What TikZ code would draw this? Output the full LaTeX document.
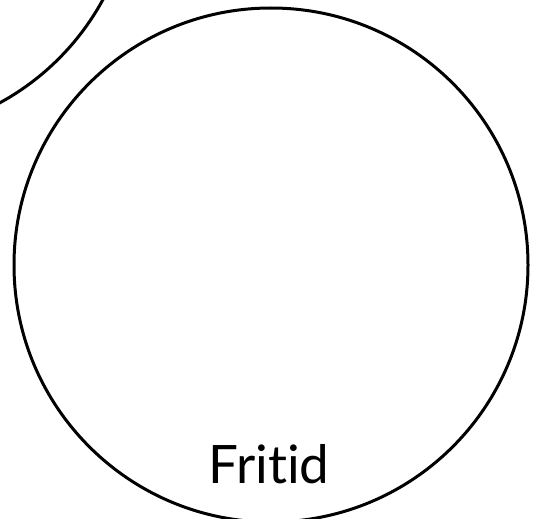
\documentclass[tikz,border=0pt]{standalone}
\usepackage{fontspec}
\setmainfont[Ligatures=NoCommon]{Lato}

\begin{document}
\begin{tikzpicture}[x=1pt,y=-1pt,line width=3pt]

\def\r{257}

\useasboundingbox (0,0) rectangle (541,519);

%====================================================
% Circle 0 : upper left (cut off)
%====================================================
\draw (-123,-123) circle(\r);

%====================================================
% Circle 1 : Fritid
%====================================================
\begin{scope}[shift={(271,265)}]

% Circle
\draw (0,0) circle(\r);

% Label
\node[font=\fontsize{53}{60}\selectfont, anchor=base] (fritid) at (-2,218) {Fritid};

\end{scope}

\end{tikzpicture}
\end{document}
